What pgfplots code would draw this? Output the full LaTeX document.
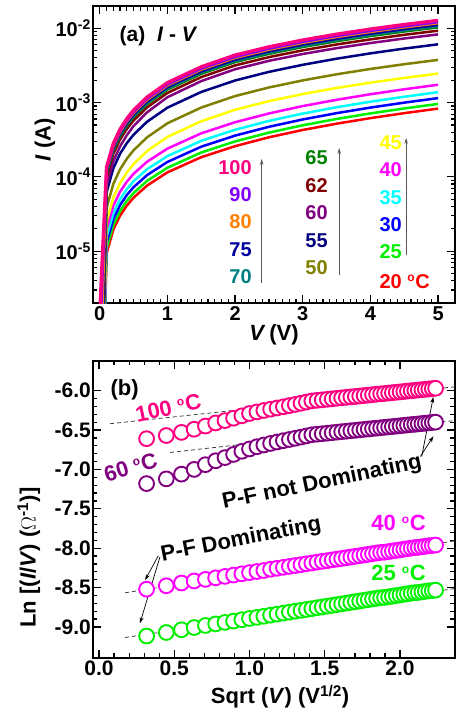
\documentclass[border=0pt]{standalone}
\usepackage{fontspec}
\setmainfont{Liberation Sans}
\usepackage{pgfplots}
\pgfplotsset{compat=1.18}
\usepackage{pgfplotstable}
\usetikzlibrary{arrows.meta}

\definecolor{c20}{RGB}{255,0,0}
\definecolor{c25}{RGB}{0,240,0}
\definecolor{c30}{RGB}{0,0,255}
\definecolor{c35}{RGB}{0,255,255}
\definecolor{c40}{RGB}{255,0,255}
\definecolor{c45}{RGB}{255,255,0}
\definecolor{c50}{RGB}{128,128,0}
\definecolor{c55}{RGB}{0,0,128}
\definecolor{c60}{RGB}{128,0,128}
\definecolor{c62}{RGB}{128,0,0}
\definecolor{c65}{RGB}{0,128,0}
\definecolor{c70}{RGB}{0,128,128}
\definecolor{c75}{RGB}{0,0,160}
\definecolor{c80}{RGB}{255,128,0}
\definecolor{c90}{RGB}{128,0,255}
\definecolor{c100}{RGB}{255,0,128}

\newcommand{\degC}{\textsuperscript{\fontsize{12}{12}\selectfont o}C}

\pgfplotstableread{
V   T20     T25      T30      T35      T40      T45      T50      T55      T60      T62      T65      T70      T75      T80      T90      T100
0.0 1e-9    1.2e-9   1.5e-9   2e-9     2.5e-9   3e-9     4e-9     6e-9     8e-9     1e-8     1.2e-8   1.5e-8   2e-8     1e-7     5e-7     1.5e-6
0.1 9.33e-6 1.079e-5 1.293e-5 1.551e-5 1.956e-5 2.49e-5  3.81e-5  6.18e-5  7.61e-5  9.81e-5  1.086e-4 1.128e-4 1.171e-4 1.234e-4 1.276e-4 1.350e-4
0.2 1.94e-5 2.244e-5 2.689e-5 3.23e-5  4.07e-5  5.24e-5  8.01e-5  1.299e-4 1.616e-4 2.041e-4 2.261e-4 2.349e-4 2.436e-4 2.568e-4 2.656e-4 2.810e-4
0.3 3.00e-5 3.473e-5 4.16e-5  4.99e-5  6.30e-5  8.26e-5  1.263e-4 2.049e-4 2.574e-4 3.187e-4 3.530e-4 3.667e-4 3.804e-4 4.010e-4 4.147e-4 4.387e-4
0.4 4.10e-5 4.746e-5 5.69e-5  6.82e-5  8.60e-5  1.147e-4 1.753e-4 2.844e-4 3.644e-4 4.423e-4 4.899e-4 5.089e-4 5.279e-4 5.565e-4 5.755e-4 6.088e-4
0.5 5.25e-5 6.067e-5 7.27e-5  8.72e-5  1.10e-4  1.492e-4 2.28e-4  3.70e-4  4.84e-4  5.755e-4 6.374e-4 6.621e-4 6.869e-4 7.240e-4 7.487e-4 7.921e-4
0.7 7.64e-5 8.83e-5  1.058e-4 1.27e-4  1.60e-4  2.229e-4 3.41e-4  5.53e-4  7.41e-4  8.64e-4  9.57e-4  9.94e-4  1.031e-3 1.087e-3 1.124e-3 1.189e-3
1.0 1.15e-4 1.325e-4 1.587e-4 1.904e-4 2.40e-4  3.45e-4  5.27e-4  8.55e-4  1.182e-3 1.350e-3 1.496e-3 1.554e-3 1.612e-3 1.699e-3 1.757e-3 1.859e-3
1.5 1.84e-4 2.127e-4 2.548e-4 3.06e-4  3.86e-4  5.61e-4  8.58e-4  1.391e-3 1.949e-3 2.206e-3 2.443e-3 2.538e-3 2.633e-3 2.775e-3 2.870e-3 3.036e-3
2.0 2.59e-4 3.00e-4  3.593e-4 4.31e-4  5.44e-4  8.01e-4  1.224e-3 1.986e-3 2.815e-3 3.170e-3 3.511e-3 3.648e-3 3.784e-3 3.989e-3 4.125e-3 4.364e-3
2.5 3.41e-4 3.94e-4  4.72e-4  5.67e-4  7.14e-4  1.046e-3 1.599e-3 2.594e-3 3.652e-3 4.096e-3 4.536e-3 4.712e-3 4.888e-3 5.153e-3 5.329e-3 5.637e-3
3.0 4.28e-4 4.95e-4  5.93e-4  7.12e-4  8.98e-4  1.303e-3 1.991e-3 3.230e-3 4.515e-3 5.059e-3 5.603e-3 5.821e-3 6.038e-3 6.365e-3 6.582e-3 6.963e-3
3.5 5.20e-4 6.02e-4  7.21e-4  8.65e-4  1.091e-3 1.574e-3 2.405e-3 3.902e-3 5.412e-3 6.065e-3 6.717e-3 6.977e-3 7.238e-3 7.630e-3 7.890e-3 8.347e-3
4.0 6.18e-4 7.15e-4  8.57e-4  1.028e-3 1.296e-3 1.857e-3 2.838e-3 4.605e-3 6.341e-3 7.105e-3 7.869e-3 8.175e-3 8.480e-3 8.939e-3 9.244e-3 9.779e-3
4.5 7.21e-4 8.34e-4  9.99e-4  1.199e-3 1.512e-3 2.153e-3 3.291e-3 5.339e-3 7.307e-3 8.188e-3 9.068e-3 9.420e-3 9.772e-3 1.030e-2 1.065e-2 1.127e-2
5.0 8.30e-4 9.60e-4  1.15e-3  1.38e-3  1.74e-3  2.46e-3  3.76e-3  6.10e-3  8.30e-3  9.30e-3  1.03e-2  1.07e-2  1.11e-2  1.17e-2  1.21e-2  1.28e-2
}\dataa

\pgfplotstableread{
s     T100   T60    T40    T25
0.316 -6.610 -7.180 -8.520 -9.115
0.447 -6.570 -7.120 -8.477 -9.070
0.548 -6.530 -7.060 -8.442 -9.035
0.632 -6.490 -7.000 -8.416 -9.007
0.707 -6.450 -6.940 -8.396 -8.981
0.775 -6.410 -6.890 -8.376 -8.961
0.837 -6.380 -6.850 -8.358 -8.942
0.894 -6.350 -6.810 -8.341 -8.925
0.949 -6.320 -6.770 -8.325 -8.908
1.000 -6.290 -6.740 -8.310 -8.892
1.049 -6.270 -6.712 -8.296 -8.878
1.095 -6.252 -6.690 -8.283 -8.864
1.140 -6.235 -6.670 -8.267 -8.850
1.183 -6.220 -6.652 -8.255 -8.837
1.225 -6.205 -6.635 -8.243 -8.824
1.265 -6.190 -6.620 -8.231 -8.812
1.304 -6.175 -6.605 -8.220 -8.800
1.342 -6.160 -6.590 -8.209 -8.789
1.378 -6.145 -6.575 -8.198 -8.778
1.414 -6.130 -6.560 -8.188 -8.767
1.449 -6.123 -6.553 -8.177 -8.756
1.483 -6.117 -6.547 -8.167 -8.746
1.517 -6.110 -6.540 -8.158 -8.735
1.549 -6.104 -6.534 -8.148 -8.726
1.581 -6.097 -6.527 -8.139 -8.716
1.612 -6.091 -6.521 -8.130 -8.707
1.643 -6.085 -6.515 -8.121 -8.697
1.673 -6.079 -6.509 -8.112 -8.688
1.703 -6.074 -6.504 -8.103 -8.679
1.732 -6.068 -6.498 -8.095 -8.670
1.761 -6.062 -6.492 -8.086 -8.661
1.789 -6.057 -6.487 -8.078 -8.653
1.817 -6.051 -6.481 -8.070 -8.644
1.844 -6.046 -6.476 -8.062 -8.636
1.871 -6.041 -6.471 -8.054 -8.628
1.897 -6.036 -6.466 -8.051 -8.625
1.924 -6.031 -6.461 -8.043 -8.617
1.949 -6.026 -6.456 -8.035 -8.609
1.975 -6.021 -6.451 -8.028 -8.601
2.000 -6.016 -6.446 -8.021 -8.594
2.025 -6.011 -6.441 -8.013 -8.586
2.049 -6.006 -6.436 -8.006 -8.579
2.074 -6.001 -6.431 -7.999 -8.571
2.098 -5.997 -6.427 -7.992 -8.564
2.121 -5.992 -6.422 -7.989 -8.562
2.145 -5.988 -6.418 -7.982 -8.555
2.168 -5.983 -6.413 -7.976 -8.548
2.191 -5.979 -6.409 -7.969 -8.541
2.214 -5.974 -6.404 -7.966 -8.539
2.236 -5.970 -6.400 -7.960 -8.532
}\datab

\pgfplotsset{
  myaxis/.style={
    scale only axis, width=362pt, height=297pt,
    axis line style={line width=1.9pt},
    every tick/.style={black, line width=1.2pt},
    tick align=inside,
    major tick length=8pt, minor tick length=4.5pt,
    /pgf/number format/assume math mode=true,
    label style={font=\fontsize{22}{24}\selectfont\bfseries},
  }
}

\begin{document}
\begin{tikzpicture}[x=1pt,y=1pt]
\path[use as bounding box] (0,0) rectangle (456,713);

% ---------------- panel (a)
\begin{axis}[myaxis,
  at={(93pt,410pt)}, anchor=south west,
  ymode=log,
  xmin=-0.1, xmax=5.25, ymin=2e-6, ymax=2e-2,
  xtick={0,1,2,3,4,5}, minor x tick num=9,
  ytick={1e-5,1e-4,1e-3,1e-2},
  yticklabels={10\textsuperscript{-5},10\textsuperscript{-4},10\textsuperscript{-3},10\textsuperscript{-2}},
  minor ytick={2e-6,3e-6,4e-6,5e-6,6e-6,7e-6,8e-6,9e-6,2e-5,3e-5,4e-5,5e-5,6e-5,7e-5,8e-5,9e-5,2e-4,3e-4,4e-4,5e-4,6e-4,7e-4,8e-4,9e-4,2e-3,3e-3,4e-3,5e-3,6e-3,7e-3,8e-3,9e-3,2e-2},
  tick label style={font=\fontsize{20}{22}\selectfont\bfseries},
  yticklabel style={inner xsep=2pt},
  xlabel={\textit{V}\,(V)}, ylabel={\textit{I} (A)},
  xlabel style={at={(axis description cs:0.5,-0.108)}, anchor=center},
  ylabel style={at={(axis description cs:-0.133,0.55)}, anchor=center},
  every axis plot/.append style={line join=round},
]
\addplot[c20,  line width=2.5pt] table[x=V,y=T20]{\dataa};
\addplot[c25,  line width=2.5pt] table[x=V,y=T25]{\dataa};
\addplot[c30,  line width=2.5pt] table[x=V,y=T30]{\dataa};
\addplot[c35,  line width=2.5pt] table[x=V,y=T35]{\dataa};
\addplot[c40,  line width=2.5pt] table[x=V,y=T40]{\dataa};
\addplot[c45,  line width=2.5pt] table[x=V,y=T45]{\dataa};
\addplot[c50,  line width=2.5pt] table[x=V,y=T50]{\dataa};
\addplot[c55,  line width=2.5pt] table[x=V,y=T55]{\dataa};
\addplot[c60,  line width=2.5pt] table[x=V,y=T60]{\dataa};
\addplot[c62,  line width=2.5pt] table[x=V,y=T62]{\dataa};
\addplot[c65,  line width=2.5pt] table[x=V,y=T65]{\dataa};
\addplot[c70,  line width=2.5pt] table[x=V,y=T70]{\dataa};
\addplot[c75,  line width=2.5pt] table[x=V,y=T75]{\dataa};
\addplot[c80,  line width=2.5pt] table[x=V,y=T80]{\dataa};
\addplot[c90,  line width=2.5pt] table[x=V,y=T90]{\dataa};
\addplot[c100, line width=3.3pt] table[x=V,y=T100]{\dataa};

\node[anchor=west, font=\fontsize{21}{23}\selectfont\bfseries] at (rel axis cs:0.064,0.90) {(a)\ \ \textit{I} - \textit{V}};

\begin{scope}[every node/.style={font=\fontsize{20}{22}\selectfont\bfseries}]
\node[anchor=east, text=c100] at (rel axis cs:0.448,0.455) {100};
\node[anchor=east, text=c90]  at (rel axis cs:0.448,0.364) {90};
\node[anchor=east, text=c80]  at (rel axis cs:0.448,0.273) {80};
\node[anchor=east, text=c75]  at (rel axis cs:0.448,0.178) {75};
\node[anchor=east, text=c70]  at (rel axis cs:0.448,0.0875) {70};
\node[anchor=east, text=c65]  at (rel axis cs:0.658,0.488) {65};
\node[anchor=east, text=c62]  at (rel axis cs:0.658,0.394) {62};
\node[anchor=east, text=c60]  at (rel axis cs:0.658,0.303) {60};
\node[anchor=east, text=c55]  at (rel axis cs:0.658,0.209) {55};
\node[anchor=east, text=c50]  at (rel axis cs:0.658,0.118) {50};
\node[anchor=west, text=c45]  at (rel axis cs:0.782,0.539) {45};
\node[anchor=west, text=c40]  at (rel axis cs:0.782,0.448) {40};
\node[anchor=west, text=c35]  at (rel axis cs:0.782,0.354) {35};
\node[anchor=west, text=c30]  at (rel axis cs:0.782,0.263) {30};
\node[anchor=west, text=c25]  at (rel axis cs:0.782,0.172) {25};
\node[anchor=west, text=c20]  at (rel axis cs:0.782,0.071) {20 \degC};
\end{scope}
\draw[-{Stealth[length=6pt,width=3.5pt]}, black!65, line width=0.7pt] (rel axis cs:0.466,0.067) -- (rel axis cs:0.466,0.485);
\draw[-{Stealth[length=6pt,width=3.5pt]}, black!65, line width=0.7pt] (rel axis cs:0.680,0.094) -- (rel axis cs:0.680,0.522);
\draw[-{Stealth[length=6pt,width=3.5pt]}, black!65, line width=0.7pt] (rel axis cs:0.865,0.162) -- (rel axis cs:0.865,0.556);
\end{axis}

% ---------------- panel (b)
\begin{axis}[myaxis,
  at={(93pt,55.3pt)}, anchor=south west,
  xmin=-0.04, xmax=2.365, ymin=-9.39, ymax=-5.62,
  xtick={0,0.5,1,1.5,2}, ytick={-9,-8.5,-8,-7.5,-7,-6.5,-6},
  minor x tick num=4, minor y tick num=4,
  tick label style={font=\fontsize{21}{23}\selectfont\bfseries},
  yticklabel style={inner xsep=2pt},
  xticklabel style={/pgf/number format/.cd, fixed, fixed zerofill, precision=1},
  yticklabel style={/pgf/number format/.cd, fixed, fixed zerofill, precision=1},
  xlabel={Sqrt (\textit{V}) (V\textsuperscript{1/2})},
  ylabel={Ln [(\textit{I}/\textit{V}) ($\Omega$\textsuperscript{-1})]},
  xlabel style={at={(axis description cs:0.517,-0.132)}, anchor=center},
  ylabel style={at={(axis description cs:-0.177,0.337)}, anchor=center},
]
\addplot[only marks, mark=*, mark size=7.4pt, mark options={draw=c100, fill=white, line width=1.9pt}] table[x=s,y=T100]{\datab};
\addplot[only marks, mark=*, mark size=7.4pt, mark options={draw=c60, fill=white, line width=1.9pt}] table[x=s,y=T60]{\datab};
\addplot[only marks, mark=*, mark size=7.4pt, mark options={draw=c40, fill=white, line width=1.9pt}] table[x=s,y=T40]{\datab};
\addplot[only marks, mark=*, mark size=7.4pt, mark options={draw=c25, fill=white, line width=1.9pt}] table[x=s,y=T25]{\datab};

\addplot[black!75, line width=0.8pt, dash pattern=on 4pt off 3pt] coordinates {(0.073,-6.42) (2.37,-5.95)};
\addplot[black!75, line width=0.8pt, dash pattern=on 4pt off 3pt] coordinates {(0.472,-6.785) (2.37,-6.378)};
\addplot[black!75, line width=0.8pt, dash pattern=on 4pt off 3pt] coordinates {(0.173,-8.566) (2.37,-7.905)};
\addplot[black!75, line width=0.8pt, dash pattern=on 4pt off 3pt] coordinates {(0.173,-9.134) (2.37,-8.51)};

\begin{scope}[every node/.style={font=\fontsize{22}{24}\selectfont\bfseries}]
\node at (axis cs:0.17,-5.99) {(b)};
\node[text=c100, rotate=12] at (axis cs:0.46,-6.22) {100 \degC};
\node[text=c60, rotate=17] at (axis cs:0.21,-6.97) {60 \degC};
\node[rotate=11.7] at (axis cs:1.482,-7.17) {P-F not Dominating};
\node[rotate=11] at (axis cs:0.944,-7.896) {P-F Dominating};
\node[text=c40] at (axis cs:1.99,-7.68) {40 \degC};
\node[text=c25] at (axis cs:1.99,-8.315) {25 \degC};
\end{scope}
\draw[-{Stealth[length=6pt,width=4pt]}, line width=0.7pt] (axis cs:2.144,-6.836) -- (axis cs:2.221,-6.08);
\draw[-{Stealth[length=6pt,width=4pt]}, line width=0.7pt] (axis cs:2.135,-6.836) -- (axis cs:2.221,-6.58);
\draw[-{Stealth[length=6pt,width=4pt]}, line width=0.7pt] (axis cs:0.394,-8.095) -- (axis cs:0.306,-8.405);
\draw[-{Stealth[length=6pt,width=4pt]}, line width=0.7pt] (axis cs:0.405,-8.11) -- (axis cs:0.272,-8.952);
\end{axis}
\end{tikzpicture}
\end{document}
